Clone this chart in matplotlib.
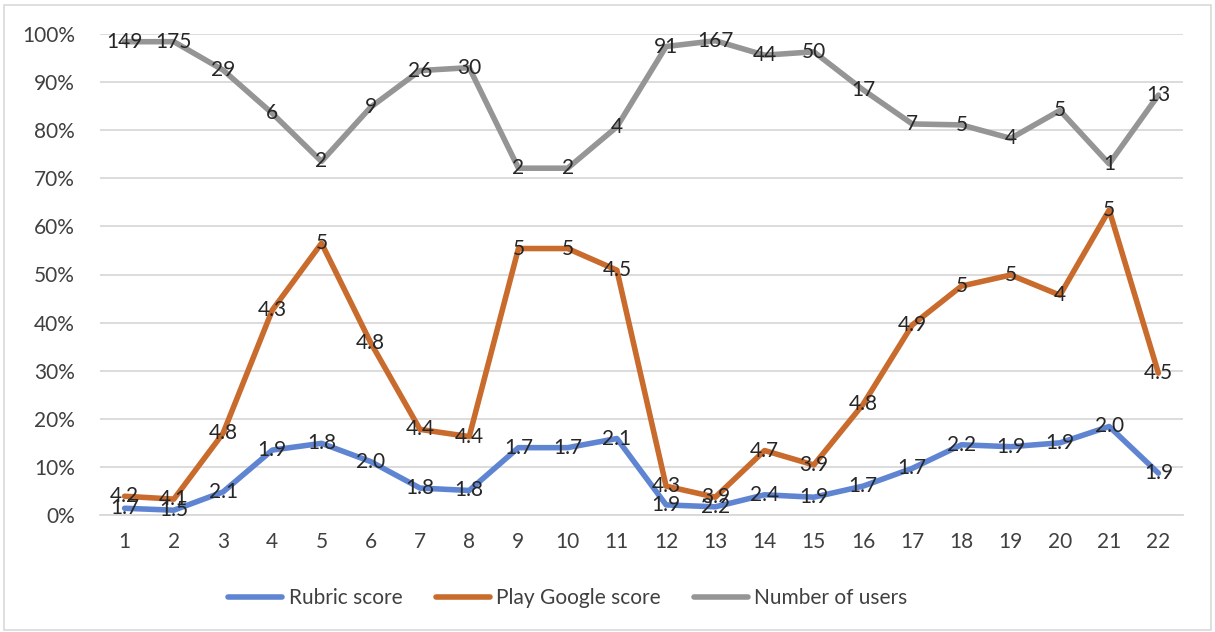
import numpy as np
import matplotlib
matplotlib.use("Agg")
import matplotlib.pyplot as plt
from matplotlib.patches import Rectangle

# values (percent stacked positions) and their data labels
apps = list(range(1, 23))
rubric_pos = [1.4, 1.0, 4.8, 13.5, 14.9, 11.1, 5.6, 5.1, 14.0, 14.0, 15.9,
              2.1, 1.7, 4.2, 3.7, 6.0, 9.7, 14.6, 14.2, 15.0, 18.4, 8.7]
play_pos = [3.9, 3.3, 17.0, 42.6, 56.5, 35.8, 17.8, 16.3, 55.4, 55.4, 50.9,
            6.0, 3.7, 13.4, 10.4, 23.0, 39.5, 47.6, 49.9, 45.7, 63.4, 29.5]
users_pos = [98.4, 98.4, 92.5, 83.5, 73.5, 84.8, 92.4, 93.0, 72.1, 72.1, 80.7,
             97.4, 98.6, 95.6, 96.3, 88.4, 81.3, 81.1, 78.3, 84.1, 73.0, 87.3]
rubric_lbl = ["1.7", "1.5", "2.1", "1.9", "1.8", "2.0", "1.8", "1.8", "1.7", "1.7", "2.1",
              "1.9", "2.2", "2.4", "1.9", "1.7", "1.7", "2.2", "1.9", "1.9", "2.0", "1.9"]
play_lbl = ["4.2", "4.1", "4.8", "4.3", "5", "4.8", "4.4", "4.4", "5", "5", "4.5",
            "4.3", "3.9", "4.7", "3.9", "4.8", "4.9", "5", "5", "4", "5", "4.5"]
users_lbl = ["149", "175", "29", "6", "2", "9", "26", "30", "2", "2", "4",
             "91", "167", "44", "50", "17", "7", "5", "4", "5", "1", "13"]
yticks = list(range(0, 101, 10))

plt.rcParams["font.family"] = ["Lato", "DejaVu Sans"]

fig = plt.figure(figsize=(12.15, 6.32), dpi=100)
ax = fig.add_axes([100 / 1215, 1 - 515 / 632, 1083 / 1215, 481 / 632])

series = [
    (rubric_pos, rubric_lbl, "#5F85D2", "Rubric score"),
    (play_pos, play_lbl, "#C96B2C", "Play Google score"),
    (users_pos, users_lbl, "#959595", "Number of users"),
]
for pos, lbl, col, name in series:
    ax.plot(apps, pos, color=col, lw=4.0, label=name, solid_joinstyle="round",
            solid_capstyle="round", zorder=3)
for pos, lbl, col, name in series:
    for x, y, t in zip(apps, pos, lbl):
        ax.text(x, y, t, ha="center", va="center", fontsize=15, color="#262626", zorder=5)

ax.set_xlim(0.5, 22.5)
ax.set_ylim(0, 100)
ax.set_yticks(yticks)
ax.set_yticklabels([f"{v}%" for v in yticks])
ax.set_xticks(apps)
ax.set_xticklabels([str(a) for a in apps])
ax.tick_params(length=0, labelsize=15, colors="#404040")
ax.tick_params(axis="y", pad=18)
ax.tick_params(axis="x", pad=12)
ax.grid(axis="y", color="#d9d9d9", lw=1.3)
ax.set_axisbelow(True)
for side in ["left", "right", "top"]:
    ax.spines[side].set_visible(False)
ax.spines["bottom"].set_color("#d9d9d9")
ax.spines["bottom"].set_linewidth(1.3)

fig.legend(loc="center", bbox_to_anchor=(568 / 1215, 1 - 598 / 632), ncol=3,
           frameon=False, fontsize=15, handlelength=2.6, handletextpad=0.3,
           columnspacing=1.6, labelcolor="#404040")

fig.patches.append(Rectangle((4 / 1215, 2 / 632), 1207 / 1215, 625 / 632,
                             transform=fig.transFigure, fill=False,
                             edgecolor="#d9d9d9", lw=1.2))

fig.savefig("out.png", dpi=100)
